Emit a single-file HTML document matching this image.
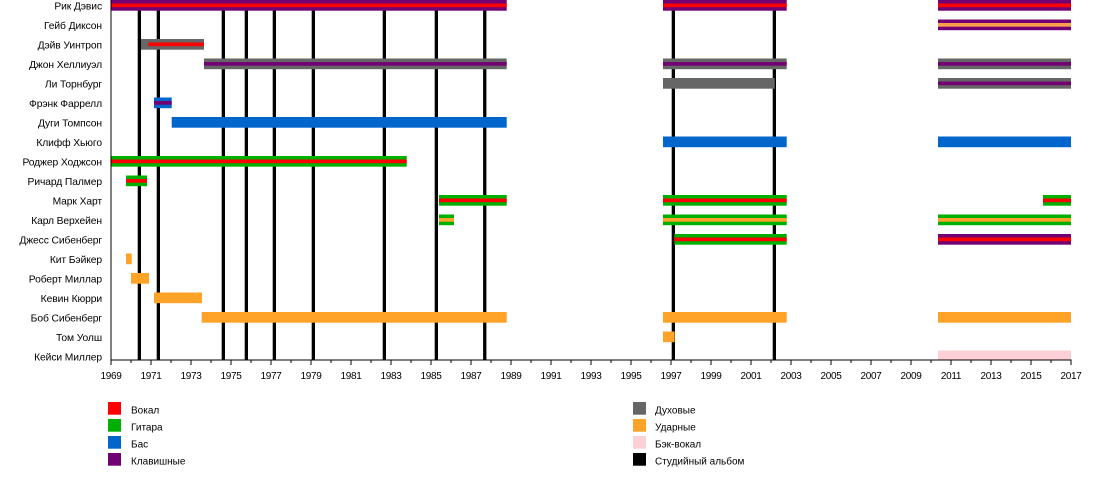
<!DOCTYPE html>
<html><head><meta charset="utf-8"><style>
html,body{margin:0;padding:0;background:#fff;}
svg{display:block;}
text{font-family:"Liberation Sans","DejaVu Sans",sans-serif;fill:#000;}
</style></head><body>
<svg width="1100" height="480" viewBox="0 0 1100 480" xmlns="http://www.w3.org/2000/svg">
<rect width="1100" height="480" fill="#fff"/>
<!-- album lines -->
<g fill="#000">
<rect x="137.7" y="0" width="3.3" height="360"/>
<rect x="156.7" y="0" width="3.3" height="360"/>
<rect x="221.7" y="0" width="3.3" height="360"/>
<rect x="244.7" y="0" width="3.3" height="360"/>
<rect x="272.7" y="0" width="3.3" height="360"/>
<rect x="311.7" y="0" width="3.3" height="360"/>
<rect x="382.7" y="0" width="3.3" height="360"/>
<rect x="434.7" y="0" width="3.3" height="360"/>
<rect x="483.1" y="0" width="3.3" height="360"/>
<rect x="671.7" y="0" width="3.3" height="360"/>
<rect x="772.7" y="0" width="3.3" height="360"/>
</g>
<!-- bars -->
<g>
<!-- row0 Рик -->
<rect x="111" y="0" width="395.7" height="10.7" fill="#730073"/><rect x="111" y="3.5" width="395.7" height="3.7" fill="#ff0000"/>
<rect x="663" y="0" width="123.7" height="10.7" fill="#730073"/><rect x="663" y="3.5" width="123.7" height="3.7" fill="#ff0000"/>
<rect x="938" y="0" width="133" height="10.7" fill="#730073"/><rect x="938" y="3.5" width="133" height="3.7" fill="#ff0000"/>
<!-- row1 Гейб -->
<rect x="938" y="19.5" width="133" height="10.7" fill="#730073"/><rect x="938" y="23" width="133" height="3.7" fill="#fca050"/>
<!-- row2 Дэйв -->
<rect x="141" y="39" width="63" height="10.7" fill="#666666"/><rect x="148.3" y="42.5" width="55.7" height="3.7" fill="#ff0000"/>
<!-- row3 Джон -->
<rect x="204" y="58.5" width="302.7" height="10.7" fill="#666666"/><rect x="204" y="62" width="302.7" height="3.7" fill="#730073"/>
<rect x="663" y="58.5" width="123.7" height="10.7" fill="#666666"/><rect x="663" y="62" width="123.7" height="3.7" fill="#730073"/>
<rect x="938" y="58.5" width="133" height="10.7" fill="#666666"/><rect x="938" y="62" width="133" height="3.7" fill="#730073"/>
<!-- row4 Ли -->
<rect x="663" y="78" width="111.7" height="10.7" fill="#666666"/>
<rect x="938" y="78" width="133" height="10.7" fill="#666666"/><rect x="938" y="81.5" width="133" height="3.7" fill="#730073"/>
<!-- row5 Фрэнк -->
<rect x="154" y="97.5" width="17.7" height="10.7" fill="#0066cc"/><rect x="154" y="101" width="17.7" height="3.7" fill="#730073"/>
<!-- row6 Дуги -->
<rect x="171.7" y="117" width="335" height="10.7" fill="#0066cc"/>
<!-- row7 Клифф -->
<rect x="663" y="136.5" width="123.7" height="10.7" fill="#0066cc"/>
<rect x="938" y="136.5" width="133" height="10.7" fill="#0066cc"/>
<!-- row8 Роджер -->
<rect x="111" y="156" width="295.7" height="10.7" fill="#00b000"/><rect x="111" y="159.5" width="295.7" height="3.7" fill="#ff0000"/>
<!-- row9 Ричард -->
<rect x="126" y="175.5" width="21" height="10.7" fill="#00b000"/><rect x="126" y="179" width="21" height="3.7" fill="#ff0000"/>
<!-- row10 Марк -->
<rect x="439" y="195" width="67.7" height="10.7" fill="#00b000"/><rect x="439" y="198.5" width="67.7" height="3.7" fill="#ff0000"/>
<rect x="663" y="195" width="123.7" height="10.7" fill="#00b000"/><rect x="663" y="198.5" width="123.7" height="3.7" fill="#ff0000"/>
<rect x="1043" y="195" width="28" height="10.7" fill="#00b000"/><rect x="1043" y="198.5" width="28" height="3.7" fill="#ff0000"/>
<!-- row11 Карл -->
<rect x="439" y="214.5" width="15" height="10.7" fill="#00b000"/><rect x="439" y="218" width="15" height="3.7" fill="#ffa228"/>
<rect x="663" y="214.5" width="123.7" height="10.7" fill="#00b000"/><rect x="663" y="218" width="123.7" height="3.7" fill="#ffa228"/>
<rect x="938" y="214.5" width="133" height="10.7" fill="#00b000"/><rect x="938" y="218" width="133" height="3.7" fill="#ffa228"/>
<!-- row12 Джесс -->
<rect x="674.3" y="234" width="112.4" height="10.7" fill="#00b000"/><rect x="674.3" y="237.5" width="112.4" height="3.7" fill="#ff0000"/>
<rect x="938" y="234" width="133" height="10.7" fill="#730073"/><rect x="938" y="237.5" width="133" height="3.7" fill="#ff0000"/>
<!-- row13 Кит -->
<rect x="126" y="253.5" width="5.7" height="10.7" fill="#ffa228"/>
<!-- row14 Роберт -->
<rect x="131" y="273" width="18" height="10.7" fill="#ffa228"/>
<!-- row15 Кевин -->
<rect x="154" y="292.5" width="48" height="10.7" fill="#ffa228"/>
<!-- row16 Боб -->
<rect x="201.7" y="312" width="305" height="10.7" fill="#ffa228"/>
<rect x="663" y="312" width="123.7" height="10.7" fill="#ffa228"/>
<rect x="938" y="312" width="133" height="10.7" fill="#ffa228"/>
<!-- row17 Том -->
<rect x="663" y="331.5" width="11.7" height="10.7" fill="#ffa228"/>
<!-- row18 Кейси -->
<rect x="938" y="350.5" width="133" height="9.5" fill="#fcd0d6"/>
</g>
<!-- axes -->
<rect x="110.5" y="0" width="1" height="360.5" fill="#000"/>
<rect x="110.5" y="359.5" width="961" height="1" fill="#000"/>
<g stroke="#000" stroke-width="1" id="ticks">
<path d="M111 360v5M131 360v3M151 360v5M171 360v3M191 360v5M211 360v3M231 360v5M251 360v3M271 360v5M291 360v3M311 360v5M331 360v3M351 360v5M371 360v3M391 360v5M411 360v3M431 360v5M451 360v3M471 360v5M491 360v3M511 360v5M531 360v3M551 360v5M571 360v3M591 360v5M611 360v3M631 360v5M651 360v3M671 360v5M691 360v3M711 360v5M731 360v3M751 360v5M771 360v3M791 360v5M811 360v3M831 360v5M851 360v3M871 360v5M891 360v3M911 360v5M931 360v3M951 360v5M971 360v3M991 360v5M1011 360v3M1031 360v5M1051 360v3M1071 360v5"/>
</g>
<g font-size="10" text-anchor="middle" letter-spacing="-0.3">
<text x="111" y="379">1969</text><text x="151" y="379">1971</text><text x="191" y="379">1973</text><text x="231" y="379">1975</text><text x="271" y="379">1977</text><text x="311" y="379">1979</text><text x="351" y="379">1981</text><text x="391" y="379">1983</text><text x="431" y="379">1985</text><text x="471" y="379">1987</text><text x="511" y="379">1989</text><text x="551" y="379">1991</text><text x="591" y="379">1993</text><text x="631" y="379">1995</text><text x="671" y="379">1997</text><text x="711" y="379">1999</text><text x="751" y="379">2001</text><text x="791" y="379">2003</text><text x="831" y="379">2005</text><text x="871" y="379">2007</text><text x="911" y="379">2009</text><text x="951" y="379">2011</text><text x="991" y="379">2013</text><text x="1031" y="379">2015</text><text x="1071" y="379">2017</text>
</g>
<!-- names -->
<g font-size="10.3" text-anchor="end" letter-spacing="-0.1">
<text x="102" y="9.5">Рик Дэвис</text>
<text x="102" y="29">Гейб Диксон</text>
<text x="102" y="48.5">Дэйв Уинтроп</text>
<text x="102" y="68">Джон Хеллиуэл</text>
<text x="102" y="87.5">Ли Торнбург</text>
<text x="102" y="107">Фрэнк Фаррелл</text>
<text x="102" y="126.5">Дуги Томпсон</text>
<text x="102" y="146">Клифф Хьюго</text>
<text x="102" y="165.5">Роджер Ходжсон</text>
<text x="102" y="185">Ричард Палмер</text>
<text x="102" y="204.5">Марк Харт</text>
<text x="102" y="224">Карл Верхейен</text>
<text x="102" y="243.5">Джесс Сибенберг</text>
<text x="102" y="263">Кит Бэйкер</text>
<text x="102" y="282.5">Роберт Миллар</text>
<text x="102" y="302">Кевин Кюрри</text>
<text x="102" y="321.5">Боб Сибенберг</text>
<text x="102" y="341">Том Уолш</text>
<text x="102" y="360.5">Кейси Миллер</text>
</g>
<!-- legend -->
<rect x="108" y="402" width="13" height="12.7" fill="#ff0000"/>
<rect x="108" y="419" width="13" height="12.7" fill="#00b000"/>
<rect x="108" y="436" width="13" height="12.7" fill="#0066cc"/>
<rect x="108" y="453" width="13" height="12.7" fill="#730073"/>
<rect x="633" y="402" width="13" height="12.7" fill="#666666"/>
<rect x="633" y="419" width="13" height="12.7" fill="#ffa228"/>
<rect x="633" y="436" width="13" height="12.7" fill="#fcd0d6"/>
<rect x="633" y="453" width="13" height="12.7" fill="#000000"/>
<g font-size="10">
<text x="131" y="413.5">Вокал</text>
<text x="131" y="430.5">Гитара</text>
<text x="131" y="447.5">Бас</text>
<text x="131" y="464.5">Клавишные</text>
<text x="655" y="413.5">Духовые</text>
<text x="655" y="430.5">Ударные</text>
<text x="655" y="447.5">Бэк-вокал</text>
<text x="655" y="464.5">Студийный альбом</text>
</g>
</svg>
</body></html>
